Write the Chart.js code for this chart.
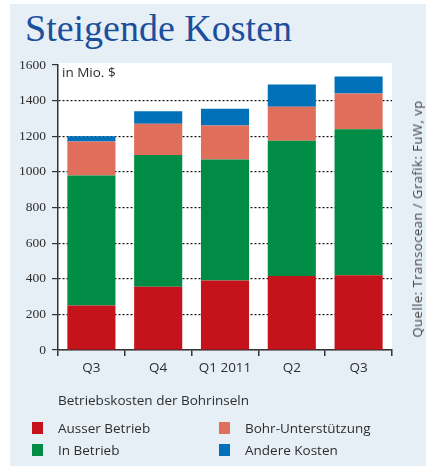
<!DOCTYPE html>
<html>
<head>
<meta charset="utf-8">
<script src="https://cdn.jsdelivr.net/npm/chart.js@4"></script>
<style>
  body { margin: 0; background: #fff; }
  #wrap { position: relative; width: 426px; height: 468px; overflow: hidden; font-family: "Open Sans", sans-serif; color: #2e2e2e; }
  #panel { position: absolute; left: 10px; top: 4px; width: 416px; height: 462px; background: #e6eef6; }
  #title { position: absolute; left: 25px; top: 6px; font-family: "Liberation Serif", serif; font-size: 38px; color: #1b4f9c; white-space: nowrap; }
  canvas { position: absolute; left: 0; top: 0; }
  #unit { position: absolute; left: 62px; top: 63px; font-size: 13.5px; white-space: nowrap; }
  #source { position: absolute; left: 417px; top: 219px; transform: translate(-50%, -50%) rotate(-90deg); font-size: 13px; letter-spacing: 0.5px; white-space: nowrap; color: #444; }
  .lg { position: absolute; font-size: 13.5px; white-space: nowrap; line-height: 16px; }
  .sw { position: absolute; width: 11px; height: 12px; }
</style>
</head>
<body>
<div id="wrap">
  <div id="panel"></div>
  <div id="title">Steigende Kosten</div>
  <canvas id="chart" width="426" height="468"></canvas>
  <div id="unit">in Mio. $</div>
  <div id="source">Quelle: Transocean / Grafik: FuW, vp</div>
  <div class="lg" style="left:58px; top:392px;">Betriebskosten der Bohrinseln</div>
  <div id="legend"></div>
</div>
<script>
const quarters = ['Q3', 'Q4', 'Q1 2011', 'Q2', 'Q3'];
const ausserBetrieb = [250, 355, 390, 415, 420];
const inBetrieb = [730, 740, 680, 760, 820];
const bohrUnterstuetzung = [190, 175, 190, 190, 200];
const andereKosten = [30, 70, 95, 125, 95];
const yTicks = [0, 200, 400, 600, 800, 1000, 1200, 1400, 1600];

const series = [
  { label: 'Ausser Betrieb', data: ausserBetrieb, color: '#c5131c' },
  { label: 'In Betrieb', data: inBetrieb, color: '#008c44' },
  { label: 'Bohr-Unterstützung', data: bohrUnterstuetzung, color: '#df6f5a' },
  { label: 'Andere Kosten', data: andereKosten, color: '#0070b9' }
];

// legend (two columns, in the reference order)
const legendPos = [
  { i: 0, x: 32, y: 422 }, { i: 2, x: 219, y: 422 },
  { i: 1, x: 32, y: 444 }, { i: 3, x: 219, y: 444 }
];
const legendEl = document.getElementById('legend');
legendPos.forEach(p => {
  const s = series[p.i];
  legendEl.insertAdjacentHTML('beforeend',
    `<div class="sw" style="left:${p.x}px; top:${p.y}px; background:${s.color}"></div>` +
    `<div class="lg" style="left:${p.x + 26}px; top:${p.y - 2}px;">${s.label}</div>`);
});

const plotBg = {
  id: 'plotBg',
  beforeDraw(chart) {
    const { ctx, chartArea: a } = chart;
    ctx.save();
    ctx.fillStyle = '#fff';
    ctx.fillRect(a.left, a.top - 2, a.right - a.left, a.bottom - a.top + 2);
    ctx.restore();
  }
};

new Chart(document.getElementById('chart'), {
  type: 'bar',
  data: {
    labels: quarters,
    datasets: series.map(s => ({
      label: s.label,
      data: s.data,
      backgroundColor: s.color,
      borderWidth: 0,
      categoryPercentage: 1,
      barPercentage: 0.72
    }))
  },
  options: {
    responsive: false,
    animation: false,
    layout: { autoPadding: false, padding: { left: 10, right: 34, top: 65, bottom: 88 } },
    plugins: { legend: { display: false }, tooltip: { enabled: false } },
    scales: {
      x: {
        stacked: true,
        border: { color: '#333', width: 1.5 },
        grid: { offset: true, drawOnChartArea: false, tickLength: 6, tickColor: '#333', lineWidth: 1.5 },
        ticks: { color: '#2e2e2e', font: { family: 'Open Sans', size: 13.5 }, padding: 4 },
        afterFit: s => { s.height = 30; }
      },
      y: {
        stacked: true,
        min: 0,
        max: 1600,
        afterBuildTicks: s => { s.ticks = yTicks.map(v => ({ value: v })); },
        border: { color: '#333', width: 1.5, dash: [2, 2] },
        grid: {
          color: c => (c.tick && c.tick.value === 1600) ? 'rgba(0,0,0,0)' : '#111',
          tickColor: '#333',
          lineWidth: 1.2,
          tickLength: 6
        },
        ticks: {
          color: '#2e2e2e',
          font: { family: 'Liberation Sans Narrow', size: 13.5 },
          padding: 6,
          callback: v => String(v)
        },
        afterFit: s => { s.width = 48; }
      }
    }
  },
  plugins: [plotBg]
});
</script>
</body>
</html>
